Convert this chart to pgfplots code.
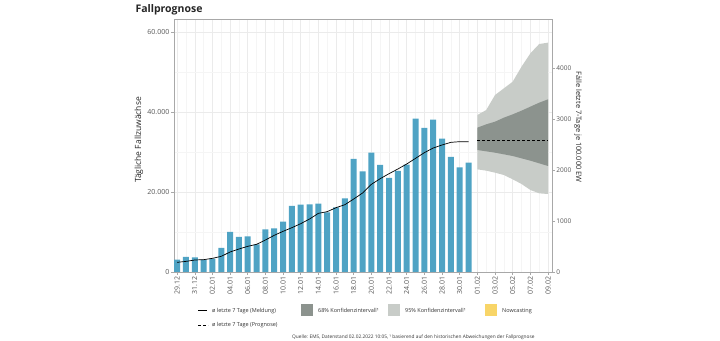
\documentclass[border=0pt]{standalone}
\usepackage{pgfplots}
\pgfplotsset{compat=1.18}
\usepackage{fontspec}
\setmainfont{Open Sans}

\definecolor{barblue}{HTML}{4FA3C4}
\definecolor{ci68}{HTML}{8C938E}
\definecolor{ci95}{HTML}{C8CCC8}
\definecolor{nowc}{HTML}{F8D568}
\definecolor{gridmajor}{HTML}{EBEBEB}
\definecolor{gridminor}{HTML}{F5F5F5}
\definecolor{axisgray}{HTML}{A8A8A8}
\definecolor{tickgray}{HTML}{555555}

\begin{document}
\begin{tikzpicture}[x=1pt,y=1pt]
\path[use as bounding box] (0,0) rectangle (720,340);

\begin{axis}[
  at={(174pt,68pt)}, anchor=south west, scale only axis,
  width=378pt, height=253pt,
  xmin=-0.35, xmax=42.45, ymin=0, ymax=63250,
  axis line style={draw=axisgray, line width=0.6pt},
  xtick={0,2,...,42},
  xticklabels={29.12,31.12,02.01,04.01,06.01,08.01,10.01,12.01,14.01,16.01,18.01,20.01,22.01,24.01,26.01,28.01,30.01,01.02,03.02,05.02,07.02,09.02},
  minor xtick={1,3,...,41},
  ytick={0,20000,40000,60000},
  minor ytick={10000,30000,50000},
  grid=both,
  major grid style={draw=gridmajor, line width=0.5pt},
  minor grid style={draw=gridminor, line width=0.4pt},
  tick align=outside, major tick length=3pt, minor tick length=0pt,
  tick style={draw=axisgray, line width=0.5pt},
  xtick pos=left, ytick pos=left,
  ticklabel style={font=\fontsize{7}{8}\selectfont, text=tickgray},
  xticklabel style={rotate=90, anchor=east, inner sep=1.5pt},
  yticklabel style={inner sep=1.5pt},
  /pgf/number format/assume math mode=true,
  /pgf/number format/1000 sep={.},
  scaled y ticks=false,
]
% 95% band
\addplot[fill=ci95, draw=none] coordinates {
 (34,39250) (35,40500) (36,44250) (37,45917) (38,47583) (39,51333) (40,54667) (41,57000) (42,57333)
 (42,19500) (41,19667) (40,20500) (39,22000) (38,23167) (37,24250) (36,24833) (35,25333) (34,25667)
} -- cycle;
% 68% band
\addplot[fill=ci68, draw=none] coordinates {
 (34,36083) (35,36917) (36,37583) (37,38583) (38,39417) (39,40333) (40,41333) (41,42333) (42,43167)
 (42,26500) (41,27167) (40,27833) (39,28417) (38,29000) (37,29417) (36,29833) (35,30167) (34,30500)
} -- cycle;
% forecast line
\addplot[black, line width=0.8pt, dash pattern=on 3pt off 2pt] coordinates {
 (34,32800) (42,32800)
};
% daily cases
\addplot[ybar, bar width=6pt, bar shift=0pt, fill=barblue, draw=none] coordinates {
 (0,3083) (1,3750) (2,3667) (3,3083) (4,3333) (5,6000) (6,10000) (7,8750) (8,8917) (9,6900)
 (10,10667) (11,10917) (12,12583) (13,16500) (14,16833) (15,16917) (16,17083) (17,14917) (18,16167) (19,18417)
 (20,28250) (21,25167) (22,29833) (23,26750) (24,23500) (25,25250) (26,26833) (27,38333) (28,36000) (29,38083)
 (30,33333) (31,28750) (32,26167) (33,27333)
};
% 7-day average
\addplot[black, line width=0.7pt] coordinates {
 (0,2417) (1,2650) (2,3000) (3,3083) (4,3417) (5,3917) (6,5000) (7,5750) (8,6417) (9,6917)
 (10,8000) (11,9167) (12,10167) (13,11083) (14,12083) (15,13250) (16,14667) (17,15083) (18,16083) (19,16833)
 (20,18250) (21,19750) (22,21917) (23,23333) (24,24583) (25,25750) (26,27000) (27,28417) (28,29833) (29,31000)
 (30,31750) (31,32417) (32,32583) (33,32583)
};
\end{axis}

\begin{axis}[
  at={(174pt,68pt)}, anchor=south west, scale only axis,
  width=378pt, height=253pt,
  xmin=-0.35, xmax=42.45, ymin=0, ymax=4961,
  axis x line=none, axis y line*=right,
  axis line style={draw=axisgray, line width=0.6pt},
  ytick={0,1000,2000,3000,4000},
  tick align=outside, major tick length=3pt,
  tick style={draw=axisgray, line width=0.5pt},
  ticklabel style={font=\fontsize{6.5}{7.5}\selectfont, text=tickgray},
  yticklabel style={inner sep=1.2pt},
  /pgf/number format/assume math mode=true,
  /pgf/number format/1000 sep={},
  scaled y ticks=false,
]
\addplot[draw=none] coordinates {(0,0) (42,0)};
\end{axis}

% titles and axis labels
\node[anchor=west, font=\fontsize{10.5}{12}\selectfont\bfseries, text=black!85] at (132,330) {Fallprognose};
\node[rotate=90, font=\fontsize{8.5}{10}\selectfont, text=black!85] at (139,200) {Tägliche Fallzuwächse};
\node[rotate=-90, font=\fontsize{7.4}{9}\selectfont, text=black!85] at (578,213) {Fälle letzte 7-Tage je 100.000 EW};

% legend
\draw[black, line width=0.8pt] (198,29.3) -- (207,29.3);
\node[anchor=west, inner sep=0pt, font=\fontsize{5.5}{6}\selectfont, text=black!80] at (212,29.3) {ø letzte 7 Tage (Meldung)};
\draw[black, line width=0.8pt, dash pattern=on 3pt off 2pt] (198,15) -- (208,15);
\node[anchor=west, inner sep=0pt, font=\fontsize{5.5}{6}\selectfont, text=black!80] at (212,15) {ø letzte 7 Tage (Prognose)};
\fill[ci68] (301,23.5) rectangle (313,35.5);
\node[anchor=west, inner sep=0pt, font=\fontsize{5.5}{6}\selectfont, text=black!80] at (318,29.3) {68\% Konfidenzintervall¹};
\fill[ci95] (388,23.5) rectangle (400,35.5);
\node[anchor=west, inner sep=0pt, font=\fontsize{5.5}{6}\selectfont, text=black!80] at (405,29.3) {95\% Konfidenzintervall¹};
\fill[nowc] (485,23.5) rectangle (497,35.5);
\node[anchor=west, inner sep=0pt, font=\fontsize{5.5}{6}\selectfont, text=black!80] at (502,29.3) {Nowcasting};

% footer
\node[anchor=north west, inner sep=0pt, font=\fontsize{4.8}{5}\selectfont, text=black!80] at (292,5) {Quelle: EMS, Datenstand 02.02.2022 10:05, ¹ basierend auf den historischen Abweichungen der Fallprognose};
\end{tikzpicture}
\end{document}
